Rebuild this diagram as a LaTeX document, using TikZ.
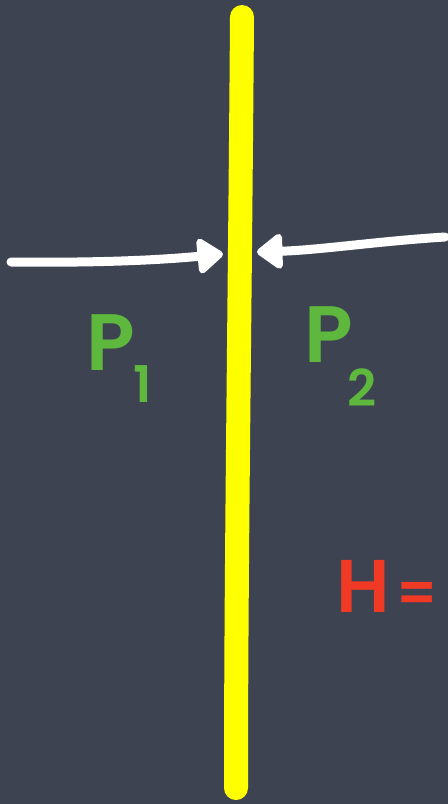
\documentclass[tikz,border=0pt]{standalone}
\usepackage{fontspec}
\setmainfont{Poppins}[BoldFont={* SemiBold}]
\usetikzlibrary{arrows.meta}
\definecolor{board}{RGB}{62,67,82}
\definecolor{chalkyellow}{RGB}{255,255,0}
\definecolor{chalkgreen}{RGB}{94,184,62}
\definecolor{chalkred}{RGB}{240,58,38}
\tikzset{
  push/.style={draw=white, line width=6.75pt, line cap=round,
    -{Triangle[round, length=21pt, width=30pt]}},
  chalktext/.style={inner sep=0pt, font=\fontsize{60}{60}\selectfont\bfseries}
}

\begin{document}
\begin{tikzpicture}[x=0.75pt, y=-0.75pt]
        % ==== BOARD ====
        \fill[board] (0,0) rectangle (448,804);
        \useasboundingbox (0,0) rectangle (448,804);
        % ==== WALL ====
        \coordinate (wtop) at (242,17);
        \coordinate (wbot) at (236,788);
        \draw[chalkyellow, line width=18pt, line cap=round]
            (wtop) .. controls (240,300) and (236,560) .. (wbot);
        % ==== ARROWS ====
        \coordinate (lstart) at (11,262);
        \coordinate (ltip) at (223,254);
        \coordinate (rstart) at (445,237);
        \coordinate (rtip) at (257,252);
        \draw[push] (lstart) .. controls (100,263) and (160,260) .. (ltip);
        \draw[push] (rstart) .. controls (380,241) and (320,250) .. (rtip);
        % ==== LABELS ====
        \node[chalktext, text=chalkgreen, anchor=base west] (p1) at (86,370)
            {P\kern-1pt\raisebox{-24pt}{\fontsize{38}{38}\selectfont 1}};
        \node[chalktext, text=chalkgreen, anchor=base west] (p2) at (304,362)
            {P\kern-4pt\raisebox{-33pt}{\fontsize{38}{38}\selectfont 2}};
        \node[chalktext, text=chalkred, anchor=base west, font=\fontsize{56}{56}\selectfont\bfseries] (hlabel) at (336,612)
            {H\hspace{5pt}{\fontsize{42}{42}\selectfont =}};
\end{tikzpicture}
\end{document}
